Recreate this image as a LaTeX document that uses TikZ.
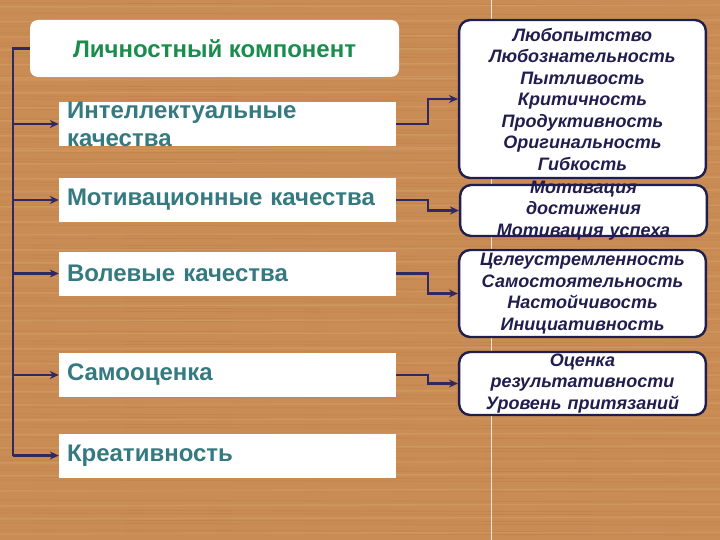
\documentclass[tikz,border=0pt]{standalone}
\usepackage{fontspec}
\setmainfont{Liberation Sans}
\usetikzlibrary{positioning,arrows.meta}

\definecolor{wood}{RGB}{200,140,84}
\definecolor{woodgrain}{RGB}{165,105,55}
\definecolor{woodlight}{RGB}{222,170,115}
\definecolor{linkcol}{RGB}{48,40,98}
\definecolor{navy}{RGB}{32,30,78}
\definecolor{tealtext}{RGB}{52,122,128}
\definecolor{titlegreen}{RGB}{26,140,76}

\tikzset{
  link/.style={linkcol, line width=2.3pt},
  arr/.style={link, -{Stealth[length=9pt,width=8pt]}},
  titlebox/.style={fill=white, rounded corners=8pt, minimum width=369pt,
    minimum height=57pt, font=\fontsize{24}{28}\selectfont\bfseries,
    text=titlegreen},
  quality/.style={fill=white, minimum width=337pt, minimum height=44pt,
    inner xsep=8pt, text width=321pt, align=left, text=tealtext,
    font=\fontsize{24}{28}\selectfont\bfseries},
  trait/.style={fill=white, draw=navy, line width=2.4pt, rounded corners=11pt,
    minimum width=245pt, text width=240pt, align=center, text=navy,
    inner ysep=1.5pt, font=\fontsize{18}{21.5}\selectfont\bfseries\itshape}
}

\begin{document}
\begin{tikzpicture}[x=1pt, y=-1pt]
    % Fondo de madera
    \useasboundingbox (0,0) rectangle (720,540);
    \fill[wood] (0,0) rectangle (720,540);
    \foreach \k in {1,...,90}
      \draw[woodgrain, opacity=0.22, line width=0.8pt]
        (0,{mod(\k*53,540)}) -- (720,{mod(\k*53,540)+2});
    \foreach \k in {1,...,40}
      \draw[woodlight, opacity=0.35, line width=1.5pt]
        (0,{mod(\k*71+9,540)}) -- (720,{mod(\k*71+9,540)-2});
    \draw[white, opacity=0.8, line width=0.8pt] (491,0) -- (491,540);

    % Titulo
    \node[titlebox] (title) at (214.5,48.5) {Личностный компонент};

    % Cualidades (izquierda)
    \node[quality, inner ysep=-3pt] (q1) at (227.5,124) {Интеллектуальные\\качества};
    \node[quality] (q2) at (227.5,200)   {Мотивационные качества};
    \node[quality] (q3) at (227.5,273.5) {Волевые качества};
    \node[quality] (q4) at (227.5,375)   {Самооценка};
    \node[quality] (q5) at (227.5,455.5) {Креативность};

    % Rasgos (derecha)
    \node[trait, minimum height=158pt] (r1) at (582.5,99)
      {Любопытство\\Любознательность\\Пытливость\\Критичность\\Продуктивность\\Оригинальность\\Гибкость};
    \node[trait, minimum height=51pt, inner ysep=-4.5pt] (r2) at (583.5,210.5)
      {Мотивация\\достижения\\Мотивация успеха};
    \node[trait, minimum height=87pt] (r3) at (582.5,293.5)
      {Целеустремленность\\Самостоятельность\\Настойчивость\\Инициативность};
    \node[trait, minimum height=63pt] (r4) at (582.5,383.5)
      {Оценка\\результативности\\Уровень притязаний};

    % Tronco izquierdo
    \coordinate (trunk) at (13,48.5);
    \draw[link] (title.west) -- (trunk) -- (trunk |- q5.west);
    \foreach \q in {q1,q2,q3,q4,q5}
      \draw[arr] (trunk |- \q.west) -- (\q.west);

    % Conexiones derecha
    \foreach \q/\r in {q1/r1,q2/r2,q3/r3,q4/r4}
      \draw[arr] (\q.east) -- ++(32,0) |- (\r.west);
\end{tikzpicture}
\end{document}
